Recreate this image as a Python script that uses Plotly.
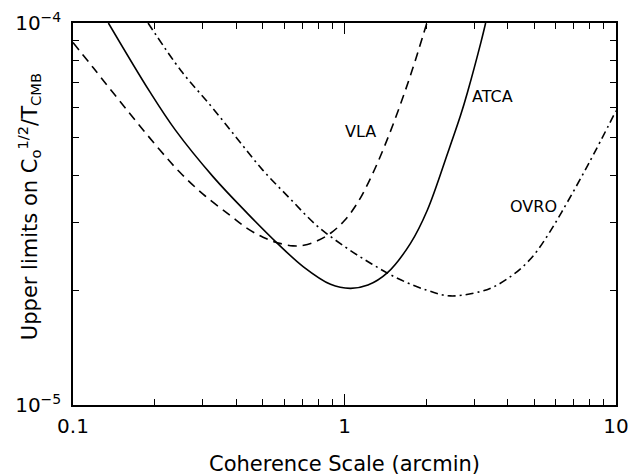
import numpy as np
import plotly.graph_objects as go

# ---- data ----
vla_x = [0.100, 0.119, 0.158, 0.209, 0.248, 0.302, 0.380, 0.438, 0.501, 0.566, 0.646,
         0.708, 0.794, 0.891, 1.0, 1.122, 1.259, 1.413, 1.585, 1.778, 2.01]
vla_y = [8.89e-5, 7.62e-5, 5.92e-5, 4.65e-5, 4.06e-5, 3.56e-5, 3.13e-5, 2.90e-5, 2.75e-5, 2.66e-5, 2.61e-5,
         2.62e-5, 2.69e-5, 2.82e-5, 3.04e-5, 3.40e-5, 3.98e-5, 4.81e-5, 5.96e-5, 7.55e-5, 1.0e-4]

atca_x = [0.135, 0.192, 0.238, 0.329, 0.438, 0.566, 0.706, 0.888, 1.05,
          1.22, 1.44, 1.75, 2.02, 2.40, 2.68, 2.84, 3.18, 3.31]
atca_y = [1.0e-4, 6.6e-5, 5.25e-5, 3.95e-5, 3.18e-5, 2.65e-5, 2.30e-5, 2.07e-5, 2.02e-5,
          2.06e-5, 2.22e-5, 2.65e-5, 3.24e-5, 4.57e-5, 5.75e-5, 6.6e-5, 8.9e-5, 1.0e-4]

ovro_x = [0.189, 0.25, 0.32, 0.40, 0.50, 0.63, 0.79, 1.0, 1.26, 1.58,
          2.0, 2.45, 3.16, 3.55, 3.98, 4.47, 5.01, 5.62, 6.31, 7.94, 10.0]
ovro_y = [1.0e-4, 7.5e-5, 6.1e-5, 5.01e-5, 4.12e-5, 3.47e-5, 2.95e-5, 2.60e-5, 2.34e-5, 2.14e-5,
          2.00e-5, 1.93e-5, 1.98e-5, 2.04e-5, 2.14e-5, 2.28e-5, 2.48e-5, 2.79e-5, 3.20e-5, 4.29e-5, 5.89e-5]

label_names = ["VLA", "ATCA", "OVRO"]
label_x = [1.15, 3.52, 4.98]
label_y = [5.19e-5, 6.44e-5, 3.30e-5]

x_tickvals = [0.1, 1, 10]
x_ticktext = ["0.1", "1", "10"]
y_tickvals = [1e-5, 1e-4]
y_ticktext = ["10<sup>\u22125</sup>", "10<sup>\u22124</sup>"]

x_minor = [m * d for d in (0.1, 1) for m in range(2, 10)]
y_minor = [m * 1e-5 for m in range(2, 10)]

FONT = "DejaVu Sans"

fig = go.Figure()
line_kw = dict(color="black", width=1.6, shape="spline", smoothing=1.0)
fig.add_trace(go.Scatter(x=vla_x, y=vla_y, mode="lines", name="VLA",
                         line=dict(dash="9px,6px", **line_kw)))
fig.add_trace(go.Scatter(x=atca_x, y=atca_y, mode="lines", name="ATCA",
                         line=dict(**line_kw)))
fig.add_trace(go.Scatter(x=ovro_x, y=ovro_y, mode="lines", name="OVRO",
                         line=dict(dash="8px,4px,2px,4px", **line_kw)))

for n, lx, ly in zip(label_names, label_x, label_y):
    fig.add_annotation(x=np.log10(lx), y=np.log10(ly), text=n, showarrow=False,
                       xref="x", yref="y", font=dict(family=FONT, size=16, color="black"))

fig.add_annotation(text="Upper limits on C<sub>o</sub><sup>1/2</sup>/T<sub>CMB</sub>",
                   xref="paper", yref="paper", x=-0.081, y=0.518, textangle=-90,
                   showarrow=False, xanchor="center", yanchor="middle",
                   font=dict(family=FONT, size=21, color="black"))

axis_common = dict(type="log", showline=True, linecolor="black", linewidth=1.5,
                   mirror="ticks", ticks="inside", ticklen=11, tickwidth=1.2,
                   tickcolor="black", showgrid=False, zeroline=False,
                   tickfont=dict(family=FONT, size=20, color="black"))

fig.update_xaxes(range=[-1, 1], tickmode="array", tickvals=x_tickvals, ticktext=x_ticktext,
                 minor=dict(tickmode="array", tickvals=x_minor, ticks="inside", ticklen=6,
                            tickwidth=1.2, tickcolor="black", showgrid=False),
                 title=dict(text="Coherence Scale (arcmin)", standoff=20,
                            font=dict(family=FONT, size=21, color="black")),
                 ticklabelstandoff=2,
                 **axis_common)
fig.update_yaxes(range=[-5, -4], tickmode="array", tickvals=y_tickvals, ticktext=y_ticktext,
                 minor=dict(tickmode="array", tickvals=y_minor, ticks="inside", ticklen=6,
                            tickwidth=1.2, tickcolor="black", showgrid=False),
                 ticklabelstandoff=6,
                 **axis_common)

fig.update_layout(width=633, height=476, showlegend=False,
                  margin=dict(l=73, r=17, t=23, b=71, autoexpand=False),
                  plot_bgcolor="white", paper_bgcolor="white",
                  font=dict(family=FONT, color="black"))

fig.write_html("out.html", config={"displayModeBar": False},
               post_script="document.body.style.margin='0';document.body.style.padding='0';")
